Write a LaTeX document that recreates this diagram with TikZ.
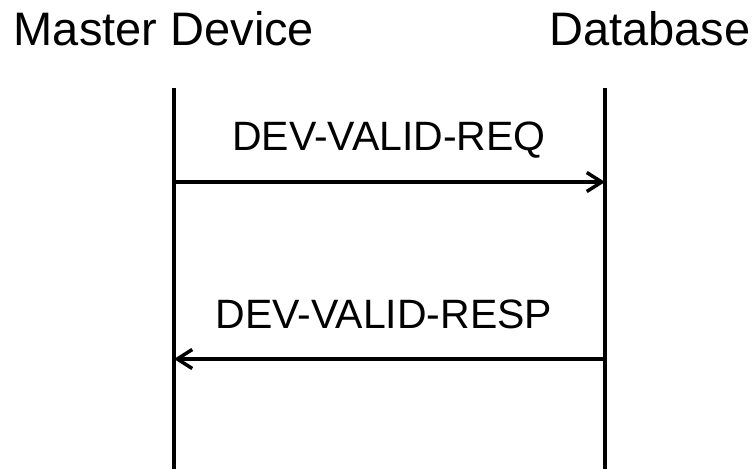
\documentclass[tikz,border=0pt]{standalone}
\usepackage{fontspec}
\setmainfont{Liberation Sans}
\usetikzlibrary{arrows.meta, positioning}

\begin{document}
\begin{tikzpicture}[x=1pt, y=-1pt,
					>={Straight Barb[length=15pt, width=19pt]},
					title/.style={anchor=base, inner sep=0pt, font=\fontsize{47}{51}\selectfont},
					msg/.style={anchor=base, inner sep=0pt, font=\fontsize{41}{45}\selectfont},
					lifeline/.style={line width=4.5pt},
					message/.style={->, line width=3.5pt}]

	\useasboundingbox (0,0) rectangle (752,469);

	\node[title] (master) at (164,45) {Master Device};
	\node[title] (db)     at (650,45) {Database};

	\coordinate (mtop) at (174,88);
	\coordinate (mbot) at (174,469);
	\coordinate (dtop) at (605,88);
	\coordinate (dbot) at (605,469);
	\draw[lifeline] (mtop) -- (mbot);
	\draw[lifeline] (dtop) -- (dbot);

	\coordinate (reqm) at (174,182);
	\coordinate (reqd) at (605,182);
	\coordinate (respm) at (174,359);
	\coordinate (respd) at (605,359);

	\node[msg] (req)  at (389,150) {DEV-VALID-REQ};
	\node[msg] (resp) at (384,328) {DEV-VALID-RESP};

	\draw[message] (reqm) -- (reqd);
	\draw[message] (respd) -- (respm);
\end{tikzpicture}
\end{document}
